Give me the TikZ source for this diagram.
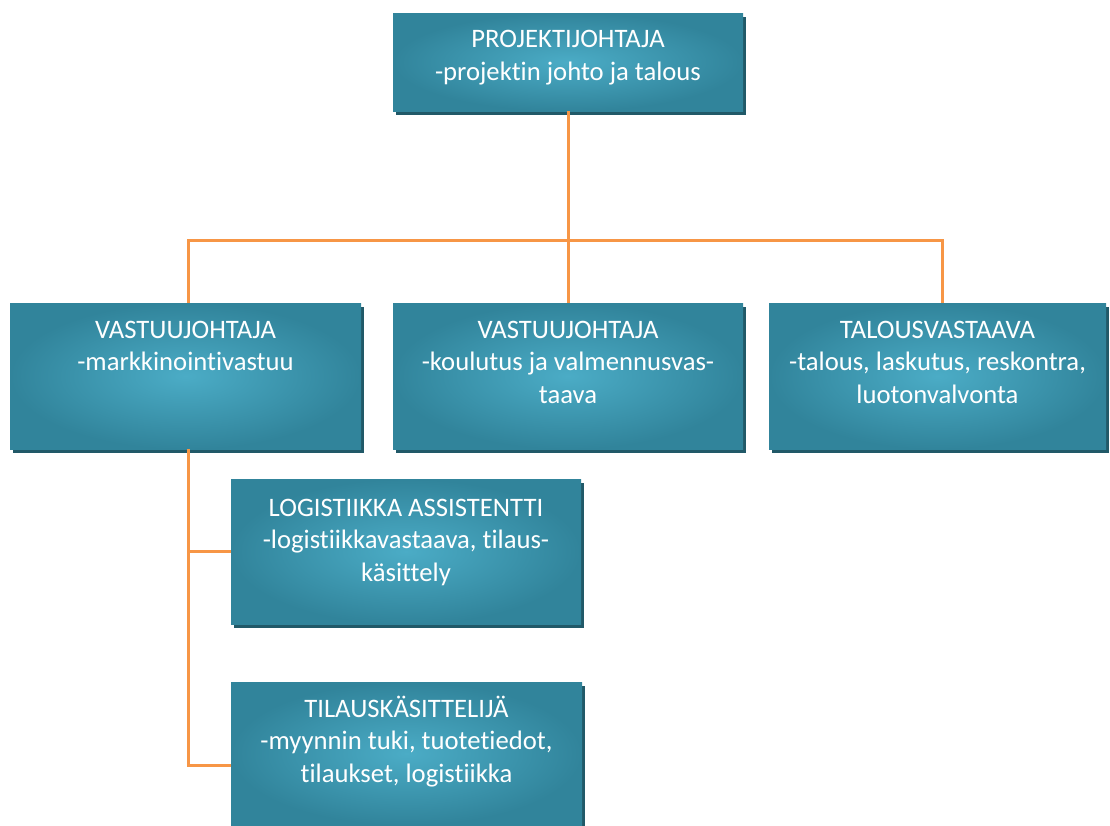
\documentclass[tikz,border=0pt]{standalone}
\usepackage{fontspec}
\setmainfont{Carlito}[Ligatures=NoCommon]
\usetikzlibrary{positioning, shadows}

\definecolor{boxedge}{HTML}{31849B}
\definecolor{boxmid}{HTML}{4BACC6}
\definecolor{boxshade}{HTML}{215968}
\definecolor{linkorange}{HTML}{F79646}

\begin{document}
\begin{tikzpicture}[
    x=0.75pt, y=-0.75pt,
    font=\fontsize{20}{24.4}\selectfont,
    % Styles
    orgbox/.style={
        rectangle, inner sep=0pt, minimum height=109.5pt,
        inner color=boxmid, outer color=boxedge,
        drop shadow={shadow xshift=2.25pt, shadow yshift=-3pt,
                     opacity=1, fill=boxshade}
    },
    boxtext/.style={text=white, align=center, inner sep=0pt},
    conn/.style={linkorange, line width=2.25pt}
]
    \useasboundingbox (0,0) rectangle (1110,825);

    % --- Top: project manager ---
    \node[orgbox, minimum width=262.5pt, minimum height=73.5pt] (pj) at (568,62) {};
    \node[boxtext, below=13pt of pj.north] (pjtext) {PROJEKTIJOHTAJA\\-projektin johto ja talous};

    % --- Row 2 ---
    \node[orgbox, minimum width=263.25pt] (vj1) at (185.5,376) {};
    \node[boxtext, below=13.5pt of vj1.north] (vj1text) {VASTUUJOHTAJA\\-markkinointivastuu};

    \node[orgbox, minimum width=262.5pt] (vj2) at (568,376) {};
    \node[boxtext, below=13.5pt of vj2.north] (vj2text) {VASTUUJOHTAJA\\-koulutus ja valmennusvas-\\taava};

    \node[orgbox, minimum width=252.75pt] (tv) at (937.5,376) {};
    \node[boxtext, below=13.5pt of tv.north] (tvtext) {TALOUSVASTAAVA\\-talous, laskutus, reskontra,\\luotonvalvonta};

    % --- Under the first manager ---
    \node[orgbox, minimum width=262.5pt, minimum height=108.75pt] (la) at (406,551.5) {};
    \node[boxtext, below=15pt of la.north] (latext) {LOGISTIIKKA ASSISTENTTI\\-logistiikkavastaava, tilaus-\\käsittely};

    \node[orgbox, minimum width=263.25pt, minimum height=107.25pt] (tk) at (406.5,753.5) {};
    \node[boxtext, below=10.5pt of tk.north] (tktext) {TILAUSKÄSITTELIJÄ\\-myynnin tuki, tuotetiedot,\\tilaukset, logistiikka};

    % --- Connections ---
    \coordinate (bus) at (568,240);
    \draw[conn] (pj.south) -- (bus);
    \draw[conn] ([xshift=1.9pt]vj1.north) |- (bus) -| ([xshift=3.4pt]tv.north);
    \draw[conn] (bus) -- (vj2.north);
    \draw[conn] ([xshift=1.9pt]vj1.south) |- (la.west);
    \draw[conn] ([xshift=1.9pt]vj1.south) |- ([yshift=-9pt]tk.west);

\end{tikzpicture}
\end{document}
